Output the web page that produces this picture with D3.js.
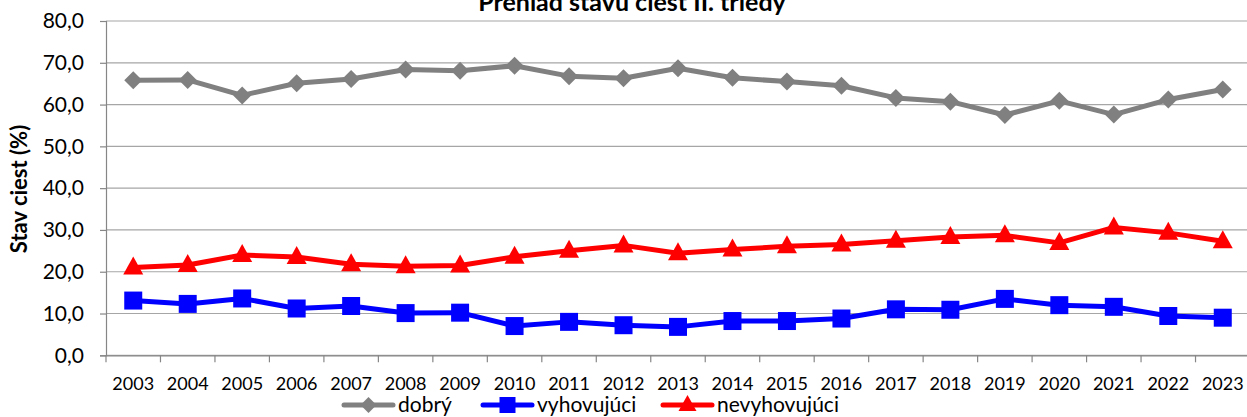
<!DOCTYPE html>
<html><head><meta charset="utf-8">
<script src="https://cdn.jsdelivr.net/npm/d3@7"></script>
<style>body{margin:0;background:#fff;} svg{display:block;font-family:Lato, "Open Sans", sans-serif;}</style>
</head><body>
<svg id="c" width="1247" height="417"></svg>
<script>
const years = ["2003","2004","2005","2006","2007","2008","2009","2010","2011","2012","2013","2014","2015","2016","2017","2018","2019","2020","2021","2022","2023"];
const dobry = [65.8,65.9,62.2,65.1,66.1,68.4,68.1,69.3,66.8,66.3,68.7,66.4,65.5,64.5,61.6,60.7,57.5,60.9,57.6,61.2,63.6];
const vyhovujuci = [13.1,12.3,13.6,11.2,11.8,10.1,10.2,7.0,8.0,7.2,6.8,8.2,8.2,8.8,11.0,10.9,13.5,12.0,11.6,9.4,9.0];
const nevyhovujuci = [21.0,21.6,24.0,23.5,21.8,21.3,21.5,23.6,25.0,26.3,24.4,25.3,26.1,26.5,27.4,28.3,28.7,26.9,30.6,29.3,27.3];
const yTicks = [0,10,20,30,40,50,60,70,80];
const title = "Prehľad stavu ciest II. triedy";
const yTitle = "Stav ciest (%)";
const series = [
  {name:"dobrý", values:dobry, color:"#808080", marker:"diamond"},
  {name:"vyhovujúci", values:vyhovujuci, color:"#0000ff", marker:"square"},
  {name:"nevyhovujúci", values:nevyhovujuci, color:"#ff0000", marker:"triangle"}
];

const svg = d3.select("#c");
const L = 106, R = 1250, T = 21, B = 355.3;
const x = d3.scaleBand().domain(years).range([L, R]).padding(0);
const y = d3.scaleLinear().domain([0, 80]).range([B, T]);

// gridlines
svg.append("g").selectAll("line").data(yTicks).join("line")
  .attr("x1", L).attr("x2", R).attr("y1", d=>y(d)).attr("y2", d=>y(d))
  .attr("stroke", "#a6a6a6").attr("stroke-width", 1.2);

// y axis
const yAxis = svg.append("g").attr("transform", `translate(${L},0)`)
  .call(d3.axisLeft(y).tickValues(yTicks).tickSize(6).tickPadding(16)
    .tickFormat(d => d3.format(".1f")(d).replace(".", ",")));
yAxis.select(".domain").attr("stroke", "#868686").attr("stroke-width", 1.2);
yAxis.selectAll(".tick line").attr("stroke", "#868686").attr("stroke-width", 1.2);
yAxis.selectAll("text").attr("font-size", 21).attr("fill", "#000").attr("font-family", "Lato");

// x axis
const xAxis = svg.append("g").attr("transform", `translate(0,${B})`)
  .call(d3.axisBottom(x).tickSize(0).tickPadding(22));
xAxis.select(".domain").attr("stroke", "#868686").attr("stroke-width", 1.2);
xAxis.selectAll("text").attr("font-size", 18).attr("fill", "#000").attr("font-family", "Lato");
// category boundary ticks
const bounds = years.map(d => x(d)).concat([R]);
svg.append("g").selectAll("line").data(bounds).join("line")
  .attr("x1", d=>d).attr("x2", d=>d).attr("y1", B).attr("y2", B+7)
  .attr("stroke", "#868686").attr("stroke-width", 1.2);

const cx = d => x(d) + x.bandwidth()/2;
function markerPath(type){
  if (type === "diamond") return "M0,-9L9,0L0,9L-9,0Z";
  if (type === "square") return "M-9,-9H9V9H-9Z";
  return "M0,-11L10,7H-10Z";
}

series.forEach(s => {
  const line = d3.line().x((d,i)=>cx(years[i])).y(d=>y(d));
  svg.append("path").datum(s.values).attr("d", line)
    .attr("fill","none").attr("stroke", s.color).attr("stroke-width", 5).attr("stroke-linejoin","round");
  svg.append("g").selectAll("path").data(s.values).join("path")
    .attr("transform", (d,i)=>`translate(${cx(years[i])},${y(d)})`)
    .attr("d", markerPath(s.marker)).attr("fill", s.color);
});

// title
svg.append("text").attr("x", 632).attr("y", 11).attr("text-anchor","middle")
  .attr("font-size", 25).attr("font-weight","bold").attr("font-family","Lato").text(title);

// y title
svg.append("text").attr("transform", "translate(27,189) rotate(-90)").attr("text-anchor","middle")
  .attr("font-size", 22).attr("font-weight","bold").attr("font-family","Lato").text(yTitle);

// legend
const legX = [344, 483, 663];
series.forEach((s,i) => {
  const g = svg.append("g").attr("transform", `translate(${legX[i]},405)`);
  g.append("line").attr("x1",0).attr("x2",49).attr("y1",0).attr("y2",0)
    .attr("stroke", s.color).attr("stroke-width",5).attr("stroke-linecap","round");
  const mp = s.marker === "diamond" ? "M0,-8L8,0L0,8L-8,0Z" : s.marker === "square" ? "M-8,-8H8V8H-8Z" : "M0,-10L9,6H-9Z";
  g.append("path").attr("transform","translate(24.5,0)").attr("d", mp).attr("fill", s.color);
  g.append("text").attr("x", 54).attr("y", 6.5).attr("font-size", 21).attr("font-family","Lato").text(s.name);
});
</script>
</body></html>
